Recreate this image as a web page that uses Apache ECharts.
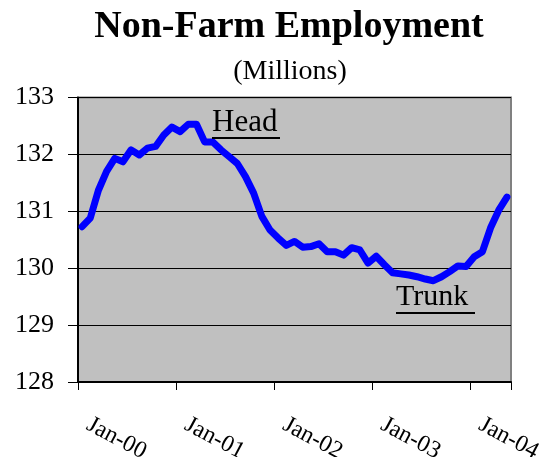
<!DOCTYPE html>
<html>
<head>
<meta charset="utf-8">
<script src="https://cdn.jsdelivr.net/npm/echarts@6/dist/echarts.min.js"></script>
<style>html,body{margin:0;padding:0;background:#fff}#c{width:544px;height:457px}</style>
</head>
<body>
<div id="c"></div>
<script>
// Monthly categories Jan-2000 .. May-2004
const years = ['00', '01', '02', '03', '04'];
const monthNames = ['Jan','Feb','Mar','Apr','May','Jun','Jul','Aug','Sep','Oct','Nov','Dec'];
const categories = [];
for (let y = 0; y < years.length; y++) {
  for (let m = 0; m < 12; m++) {
    if (y === 4 && m > 4) break;
    categories.push(monthNames[m] + '-' + years[y]);
  }
}
// Non-farm employment, millions
const employment = [
  130.73, 130.88, 131.37, 131.70, 131.93, 131.87, 132.08, 131.99, 132.11, 132.14, 132.34, 132.48,
  132.40, 132.53, 132.53, 132.22, 132.22, 132.08, 131.96, 131.84, 131.61, 131.32, 130.91, 130.67,
  130.53, 130.40, 130.47, 130.37, 130.38, 130.43, 130.29, 130.29, 130.23, 130.36, 130.32, 130.09,
  130.21, 130.06, 129.92, 129.90, 129.88, 129.85, 129.81, 129.78, 129.85, 129.94, 130.04, 130.03,
  130.20, 130.29, 130.71, 131.02, 131.25
];
const yTicks = { min: 128, max: 133, interval: 1 };
const titleText = 'Non-Farm Employment';
const subtitleText = '(Millions)';
const annotations = ['Head', 'Trunk'];

const serif = '"Liberation Serif", "Times New Roman", serif';
const chart = echarts.init(document.getElementById('c'), null, { renderer: 'canvas' });
chart.setOption({
  animation: false,
  backgroundColor: '#ffffff',
  grid: {
    left: 78, right: 33, top: 97.5, bottom: 75,
    containLabel: false, outerBoundsMode: 'none',
    show: true, backgroundColor: '#c0c0c0', borderColor: '#808080', borderWidth: 2
  },
  xAxis: {
    type: 'category',
    data: categories,
    boundaryGap: true,
    axisLine: { lineStyle: { color: '#000', width: 2 } },
    axisTick: { show: true, length: 8, interval: (i) => i % 12 === 0, lineStyle: { color: '#000', width: 1 } },
    axisLabel: {
      interval: (i) => i % 12 === 0,
      rotate: -28, margin: 38, padding: [0, 0, 0, 7],
      fontFamily: serif, fontSize: 24, color: '#000'
    },
    splitLine: { show: false }
  },
  yAxis: {
    type: 'value',
    min: yTicks.min, max: yTicks.max, interval: yTicks.interval,
    axisLine: { show: true, lineStyle: { color: '#000', width: 2 } },
    axisTick: { show: true, length: 10, lineStyle: { color: '#000', width: 1 } },
    axisLabel: { margin: 24, fontFamily: serif, fontSize: 26, color: '#000' },
    splitLine: { show: true, lineStyle: { color: '#000', width: 1 } }
  },
  series: [{
    type: 'line',
    data: employment,
    showSymbol: false,
    lineStyle: { color: '#0000ff', width: 7, join: 'round', cap: 'round' },
    z: 3
  }],
  graphic: [
    { type: 'text', x: 289, y: 27, style: { text: titleText, font: 'bold 38px ' + serif, fill: '#000', align: 'center', verticalAlign: 'middle' } },
    { type: 'text', x: 290, y: 71.5, style: { text: subtitleText, font: '28px ' + serif, fill: '#000', align: 'center', verticalAlign: 'middle' } },
    { type: 'text', x: 212, y: 123, z: 10, style: { text: annotations[0], font: '31px ' + serif, fill: '#000', align: 'left', verticalAlign: 'middle' } },
    { type: 'line', z: 10, shape: { x1: 212, y1: 138, x2: 280, y2: 138 }, style: { stroke: '#000', lineWidth: 2 } },
    { type: 'text', x: 396, y: 297, z: 10, style: { text: annotations[1], font: '30px ' + serif, fill: '#000', align: 'left', verticalAlign: 'middle' } },
    { type: 'line', z: 10, shape: { x1: 396, y1: 313, x2: 475, y2: 313 }, style: { stroke: '#000', lineWidth: 2 } }
  ]
});
</script>
</body>
</html>
